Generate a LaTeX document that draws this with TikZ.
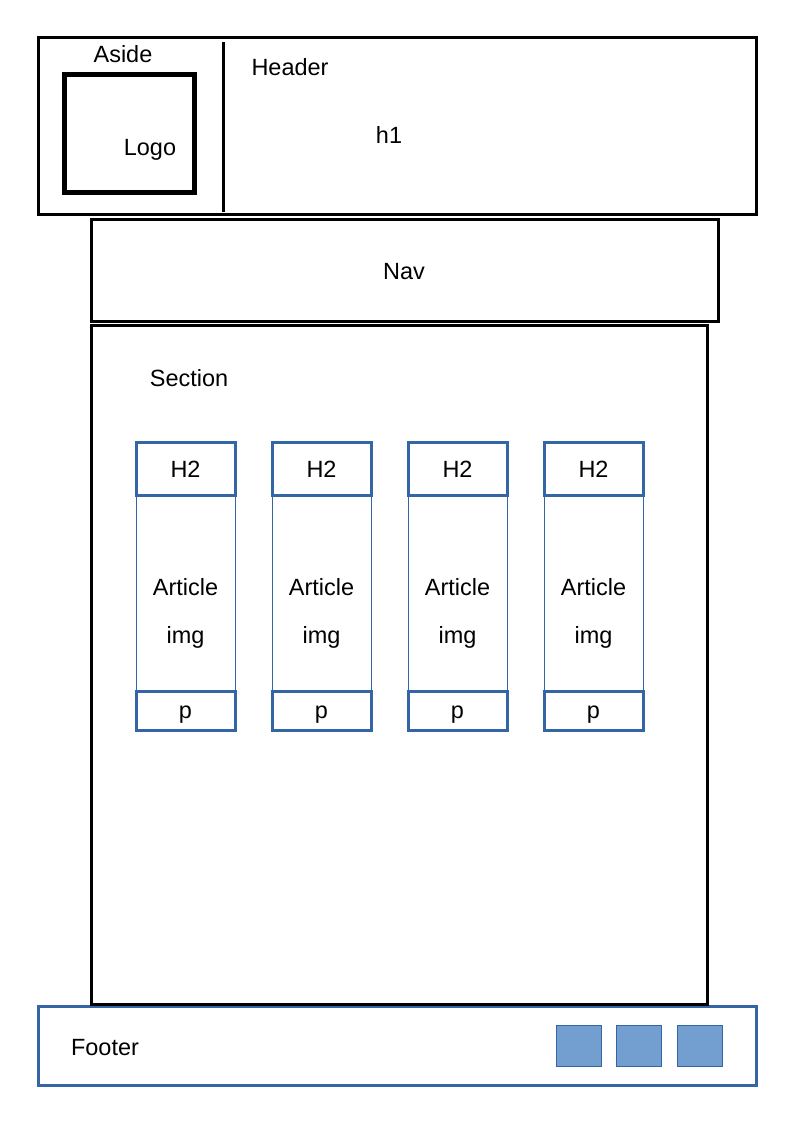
\documentclass[tikz,border=0pt]{standalone}
\usepackage{fontspec}
\setmainfont{Liberation Sans}
\definecolor{boxblue}{HTML}{3465A4}
\definecolor{btnfill}{HTML}{729FCF}

\begin{document}
\begin{tikzpicture}[x=0.75pt, y=-0.75pt,
    blk/.style={draw=black, line width=2.25pt, inner sep=0pt},
    art/.style={draw=boxblue, line width=2.25pt, inner sep=0pt, minimum width=74.25pt},
    artbody/.style={draw=boxblue, line width=0.75pt, inner sep=0pt, minimum width=74.25pt, minimum height=147pt},
    btn/.style={draw=boxblue, line width=0.6pt, fill=btnfill, inner sep=0pt, minimum width=33.75pt, minimum height=30.75pt},
    txt/.style={anchor=base, inner sep=0pt, font=\fontsize{17.6}{20}\selectfont}]
  \useasboundingbox (0,0) rectangle (794,1123);

  % ── header row: aside with logo, header with h1 ──
  \node[blk, minimum width=538.5pt, minimum height=132.75pt] (header) at (397,126.5) {};
  \coordinate (dtop) at (223,42);
  \coordinate (dbot) at (223,212);
  \draw[line width=2.25pt] (dtop) -- (dbot);
  \node[blk, line width=3.75pt, minimum width=97.5pt, minimum height=88.5pt] (logo) at (129,134) {};
  \node[txt] (aside) at (123,63)   {Aside};
  \node[txt] (logot) at (150,156)  {Logo};
  \node[txt] (headt) at (290,76)   {Header};
  \node[txt] (h1)    at (389,144)  {h1};

  % ── nav ──
  \node[blk, minimum width=470.25pt, minimum height=75.75pt] (nav) at (404.5,270.5) {};
  \node[txt] (navt) at (404,279) {Nav};

  % ── footer with three buttons (under the section's bottom edge) ──
  \node[art, minimum width=538.5pt, minimum height=59pt] (footer) at (397,1046) {};
  \node[txt] (foott) at (105,1055) {Footer};
  \node[btn] (b1) at (578.5,1045.5) {};
  \node[btn] (b2) at (638.5,1045.5) {};
  \node[btn] (b3) at (699.5,1045.5) {};

  % ── section with four articles ──
  \node[blk, minimum width=462pt, minimum height=509.25pt] (section) at (399,664.5) {};
  \node[txt] (sect) at (189,386) {Section};

  \begin{scope}
    \node[artbody] (a1b) at (185.5,593) {};
    \node[art, minimum height=39.75pt] (a1h) at (185.5,468.5) {};
    \node[art, minimum height=29.25pt] (a1p) at (185.5,710.5) {};
    \node[txt] at (185.5,477) {H2};
    \node[txt] at (185.5,595) {Article};
    \node[txt] at (185.5,643) {img};
    \node[txt] at (185.5,718) {p};
  \end{scope}
  \begin{scope}[xshift=102pt]
    \node[artbody] (a2b) at (185.5,593) {};
    \node[art, minimum height=39.75pt] (a2h) at (185.5,468.5) {};
    \node[art, minimum height=29.25pt] (a2p) at (185.5,710.5) {};
    \node[txt] at (185.5,477) {H2};
    \node[txt] at (185.5,595) {Article};
    \node[txt] at (185.5,643) {img};
    \node[txt] at (185.5,718) {p};
  \end{scope}
  \begin{scope}[xshift=204pt]
    \node[artbody] (a3b) at (185.5,593) {};
    \node[art, minimum height=39.75pt] (a3h) at (185.5,468.5) {};
    \node[art, minimum height=29.25pt] (a3p) at (185.5,710.5) {};
    \node[txt] at (185.5,477) {H2};
    \node[txt] at (185.5,595) {Article};
    \node[txt] at (185.5,643) {img};
    \node[txt] at (185.5,718) {p};
  \end{scope}
  \begin{scope}[xshift=306pt]
    \node[artbody] (a4b) at (185.5,593) {};
    \node[art, minimum height=39.75pt] (a4h) at (185.5,468.5) {};
    \node[art, minimum height=29.25pt] (a4p) at (185.5,710.5) {};
    \node[txt] at (185.5,477) {H2};
    \node[txt] at (185.5,595) {Article};
    \node[txt] at (185.5,643) {img};
    \node[txt] at (185.5,718) {p};
  \end{scope}
\end{tikzpicture}
\end{document}
